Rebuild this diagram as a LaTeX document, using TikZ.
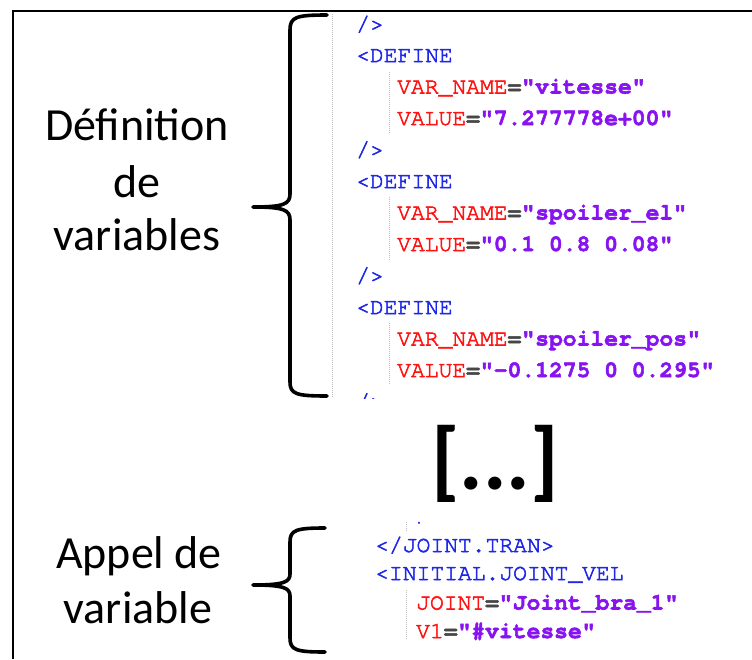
\documentclass[tikz,border=0pt]{standalone}
\usepackage{fontspec}
\setmainfont{Carlito}
\newfontfamily\codefont{TeX Gyre Cursor}[FakeBold=2.4]
\definecolor{tagblue}{RGB}{30,40,230}
\definecolor{attrred}{RGB}{255,20,20}
\definecolor{valpurple}{RGB}{135,20,240}
\definecolor{eqgray}{RGB}{70,70,70}
\definecolor{guidegray}{RGB}{190,190,190}
% XML syntax colouring helpers
\newcommand\xtag[1]{\textcolor{tagblue}{#1}}
\newcommand\xkv[2]{\textcolor{attrred}{#1}\textcolor{eqgray}{\bfseries=}\textcolor{valpurple}{\bfseries"#2"}}
\begin{document}
\begin{tikzpicture}[x=1pt,y=-1pt,
  sidetext/.style={font=\fontsize{46}{55}\selectfont, anchor=base, inner sep=0pt},
  codeline/.style={font=\codefont\fontsize{23}{28}\selectfont, anchor=base west, inner sep=0pt},
  bracestroke/.style={line width=3.6pt, line cap=round, line join=round},
  guideline/.style={draw=guidegray, line width=1pt, dash pattern=on 1pt off 1pt},
  framestroke/.style={line width=2pt}]
\useasboundingbox (0,0) rectangle (752,659);

% frame (top and left edges)
\draw[framestroke] (752,11) -- (13,11) -- (13,659);

% left-hand labels
\node[sidetext] (def1) at (137,140) {Définition};
\node[sidetext] (def2) at (137,197) {de};
\node[sidetext] (def3) at (137,250) {variables};
\node[sidetext] (call1) at (139,568) {Appel de};
\node[sidetext] (call2) at (138,623) {variable};

% curly braces
\draw[bracestroke] (327,15) .. controls (296,15) and (290,17) .. (290,30) -- (290,194)
  .. controls (290,204) and (284,207) .. (253,207)
  .. controls (284,207) and (290,210) .. (290,220) -- (290,382)
  .. controls (290,394) and (296,396) .. (327,396);
\draw[bracestroke] (325,528) .. controls (296,528) and (290,530) .. (290,542) -- (290,574)
  .. controls (290,582) and (284,585) .. (253,585)
  .. controls (284,585) and (290,588) .. (290,596) -- (290,638)
  .. controls (290,650) and (296,652) .. (325,652);

% first XML excerpt: variable definitions
\draw[guideline] (332,14) -- (332,398);
\draw[guideline] (389,72) -- (389,133);
\draw[guideline] (389,197) -- (389,260);
\draw[guideline] (389,323) -- (389,385);
\begin{scope}
\clip (334,13) rectangle (752,398);
\node[codeline] (t1)  at (356,31)    {\xtag{/>}};
\node[codeline] (t2)  at (356,62)    {\xtag{<DEFINE}};
\node[codeline] (t3)  at (397,93.5)  {\xkv{VAR\_NAME}{vitesse}};
\node[codeline] (t4)  at (397,125)   {\xkv{VALUE}{7.277778e+00}};
\node[codeline] (t5)  at (356,156.5) {\xtag{/>}};
\node[codeline] (t6)  at (356,188)   {\xtag{<DEFINE}};
\node[codeline] (t7)  at (397,219.5) {\xkv{VAR\_NAME}{spoiler\_el}};
\node[codeline] (t8)  at (397,251)   {\xkv{VALUE}{0.1 0.8 0.08}};
\node[codeline] (t9)  at (356,282.5) {\xtag{/>}};
\node[codeline] (t10) at (356,314)   {\xtag{<DEFINE}};
\node[codeline] (t11) at (397,345.5) {\xkv{VAR\_NAME}{spoiler\_pos}};
\node[codeline] (t12) at (397,377)   {\xkv{VALUE}{-0.1275 0 0.295}};
\node[codeline] (t13) at (356,408.5) {\xtag{/>}};
\end{scope}

% omitted part
\node[font=\bfseries\fontsize{88}{90}\selectfont, anchor=base, inner sep=0pt] (gap) at (495,489) {[...]};

% second XML excerpt: variable call
\draw[guideline] (406,522) -- (406,531);
\draw[guideline] (406,590) -- (406,640);
\draw[tagblue, line width=1.6pt] (418.5,522) -- (419.5,523.5);
\node[codeline] (b1) at (375,552)   {\xtag{</JOINT.TRAN>}};
\node[codeline] (b2) at (375,580)   {\xtag{<INITIAL.JOINT\_VEL}};
\node[codeline] (b3) at (416,609.5) {\xkv{JOINT}{Joint\_bra\_1}};
\node[codeline] (b4) at (416,638)   {\xkv{V1}{\#vitesse}};
\end{tikzpicture}
\end{document}
